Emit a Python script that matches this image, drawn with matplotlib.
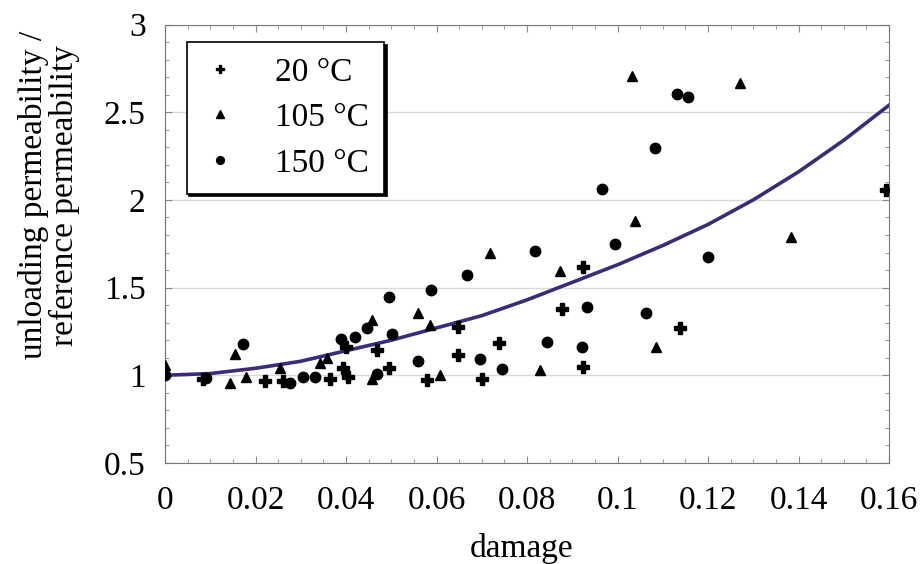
import matplotlib
matplotlib.use("Agg")
import matplotlib.pyplot as plt
from matplotlib.ticker import MultipleLocator

plt.rcParams['font.family'] = ['Liberation Serif', 'DejaVu Serif']

# 20 °C
x20 = [0.0085, 0.0221, 0.0260, 0.0365, 0.0394, 0.0405, 0.0400, 0.0468, 0.0496, 0.0580,
       0.0648, 0.0648, 0.0700, 0.0739, 0.0878, 0.0924, 0.0923, 0.1138, 0.1593]
y20 = [0.980, 0.970, 0.970, 0.980, 1.040, 0.990, 1.160, 1.145, 1.044, 0.974,
       1.278, 1.116, 0.978, 1.183, 1.377, 1.615, 1.050, 1.272, 2.054]

# 105 °C
x105 = [0.0, 0.0144, 0.0155, 0.0180, 0.0254, 0.0343, 0.0357, 0.0457, 0.0457, 0.0560,
        0.0586, 0.0608, 0.0718, 0.0829, 0.0873, 0.1031, 0.1039, 0.1084, 0.1271, 0.1383]
y105 = [1.060, 0.955, 1.120, 0.990, 1.040, 1.070, 1.100, 1.316, 0.980, 1.354,
        1.288, 1.002, 1.700, 1.031, 1.592, 2.705, 1.877, 1.164, 2.667, 1.788]

# 150 °C
x150 = [0.0, 0.0090, 0.0173, 0.0276, 0.0306, 0.0331, 0.0390, 0.0420, 0.0446, 0.0468,
        0.0494, 0.0501, 0.0588, 0.0560, 0.0667, 0.0696, 0.0745, 0.0818, 0.0845, 0.0922,
        0.0933, 0.0994, 0.0966, 0.1062, 0.1083, 0.1132, 0.1155, 0.1199]
y150 = [1.000, 0.985, 1.180, 0.955, 0.990, 0.990, 1.206, 1.220, 1.270, 1.010,
        1.446, 1.236, 1.487, 1.082, 1.573, 1.092, 1.035, 1.706, 1.189, 1.164,
        1.392, 1.748, 2.062, 1.354, 2.296, 2.604, 2.587, 1.672]

# fitted curve
xfit = [0.0, 0.01, 0.02, 0.03, 0.04, 0.05, 0.06, 0.07, 0.08,
        0.09, 0.10, 0.11, 0.12, 0.13, 0.14, 0.15, 0.16]
yfit = [1.00, 1.01, 1.04, 1.08, 1.14, 1.20, 1.27, 1.34, 1.43,
        1.53, 1.63, 1.74, 1.86, 2.00, 2.16, 2.34, 2.54]

fig = plt.figure(figsize=(9.24, 5.64), dpi=100)
ax = fig.add_axes([165/924, 1-463/564, (889-165)/924, (463-24.5)/564])

ax.plot(xfit, yfit, color='#3d2b7a', lw=2.6, zorder=2)
ax.plot(x20, y20, 'P', color='black', ms=8.5, ls='none', label='20 °C', zorder=3)
ax.plot(x105, y105, '^', color='black', ms=7.5, ls='none', label='105 °C', zorder=3)
ax.plot(x150, y150, 'o', color='black', ms=7.5, ls='none', label='150 °C', zorder=3)

ax.set_xlim(0, 0.16)
ax.set_ylim(0.5, 3)
ax.xaxis.set_minor_locator(MultipleLocator(0.005))
ax.yaxis.set_minor_locator(MultipleLocator(0.1))
ax.set_xticks([0, 0.02, 0.04, 0.06, 0.08, 0.1, 0.12, 0.14, 0.16])
ax.set_xticklabels(['0', '0.02', '0.04', '0.06', '0.08', '0.1', '0.12', '0.14', '0.16'])
ax.set_yticks([0.5, 1, 1.5, 2, 2.5, 3])
ax.set_yticklabels(['0.5', '1', '1.5', '2', '2.5', '3'])
ax.tick_params(which='both', direction='in', top=True, right=True, color='#888888', labelsize=24)
ax.tick_params(which='major', length=5)
ax.tick_params(which='minor', length=3)
ax.tick_params(axis='x', pad=16)
ax.tick_params(axis='y', pad=14)
ax.grid(axis='y', which='major', color='#d9d9d9', lw=1)
for s in ax.spines.values():
    s.set_color('#777777')

leg = ax.legend(loc='upper left', bbox_to_anchor=(0.030, 0.960), borderaxespad=0,
                fontsize=24, markerscale=0.75, fancybox=False, framealpha=1,
                edgecolor='black', borderpad=0.45, handlelength=1.1,
                handletextpad=1.1, labelspacing=0.45,
                shadow={'color': 'black', 'alpha': 1})
leg.get_frame().set_linewidth(1.2)

fig.text(49/924, 1-195/564, 'unloading permeability /\nreference permeability',
         rotation=90, ha='center', va='center', fontsize=24, linespacing=1.0)
fig.text(522/924, 1-549/564, 'damage', ha='center', va='center', fontsize=24)

fig.savefig('out.png', dpi=100)
